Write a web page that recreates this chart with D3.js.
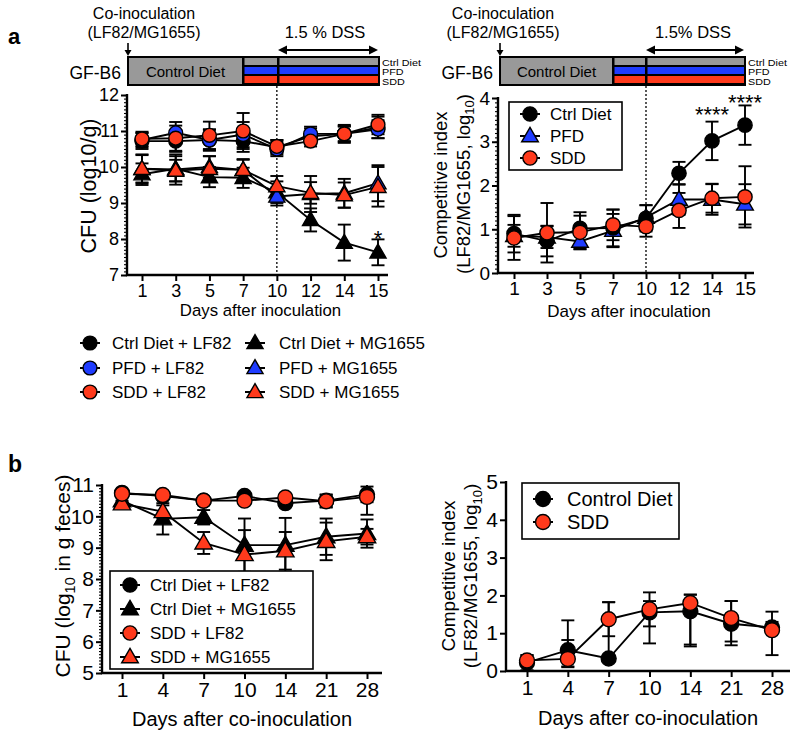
<!DOCTYPE html>
<html><head><meta charset="utf-8">
<script src="https://cdn.jsdelivr.net/npm/d3@7"></script>
<style>
body{margin:0;background:#fff}
svg{display:block}
text{font-family:"Liberation Sans",Arial,Helvetica,sans-serif;fill:#000}
</style>
</head><body>
<svg id="chart" width="800" height="739"></svg>
<script>
// ---------------- DATA ----------------
const daysA = ["1","3","5","7","10","12","14","15"];
const daysB = ["1","4","7","10","14","21","28"];
const yTicksA1 = [7,8,9,10,11,12];
const yTicksA2 = [0,1,2,3,4];
const yTicksB1 = [5,6,7,8,9,10,11];
const yTicksB2 = [0,1,2,3,4,5];

// Panel a (left): CFU log10/g
const aCtrlLF82   = [10.72,10.72,10.75,10.72,10.55,10.85,10.92,11.10];
const aCtrlLF82E  = [0.22,0.30,0.28,0.30,0.20,0.22,0.22,0.30];
const aPfdLF82    = [10.75,10.95,10.75,10.90,10.50,10.92,10.92,11.05];
const aPfdLF82E   = [0.20,0.30,0.30,0.35,0.20,0.20,0.20,0.25];
const aSddLF82    = [10.78,10.80,10.88,11.00,10.57,10.72,10.92,11.18];
const aSddLF82E   = [0.20,0.35,0.38,0.50,0.18,0.15,0.25,0.27];
const aCtrlMG     = [9.80,9.95,9.72,9.70,9.30,8.53,7.90,7.63];
const aCtrlMGE    = [0.30,0.35,0.28,0.28,0.30,0.32,0.50,0.36];
const aPfdMG      = [9.95,9.93,10.00,9.92,9.18,9.25,9.27,9.55];
const aPfdMGE     = [0.40,0.42,0.30,0.28,0.25,0.50,0.40,0.50];
const aSddMG      = [9.95,9.90,9.95,9.92,9.47,9.28,9.22,9.45];
const aSddMGE     = [0.38,0.30,0.35,0.30,0.28,0.30,0.35,0.55];

// Panel a (right): competitive index
const aCtrlCI  = [0.90,0.73,1.02,1.03,1.25,2.28,3.02,3.38];
const aCtrlCIE = [0.43,0.35,0.37,0.42,0.30,0.26,0.44,0.45];
const aPfdCI   = [0.85,0.82,0.72,0.97,1.27,1.68,1.68,1.57];
const aPfdCIE  = [0.25,0.25,0.18,0.38,0.28,0.35,0.35,0.46];
const aSddCI   = [0.80,0.92,0.93,1.10,1.06,1.43,1.71,1.74];
const aSddCIE  = [0.50,0.68,0.38,0.35,0.23,0.40,0.33,0.70];

// Panel b (left): CFU log10 in g feces
const bCtrlLF82  = [10.75,10.65,10.50,10.65,10.42,10.50,10.70];
const bCtrlLF82E = [0.08,0.10,0.10,0.08,0.10,0.20,0.25];
const bCtrlMG    = [10.50,9.92,9.97,9.08,9.08,9.35,9.45];
const bCtrlMGE   = [0.10,0.50,0.23,0.85,0.87,0.58,0.45];
const bSddLF82   = [10.72,10.68,10.50,10.50,10.60,10.48,10.62];
const bSddLF82E  = [0.08,0.08,0.08,0.08,0.08,0.20,0.57];
const bSddMG     = [10.40,10.15,9.15,8.78,8.90,9.20,9.35];
const bSddMGE    = [0.10,0.20,0.35,0.78,0.60,0.60,0.25];

// Panel b (right): competitive index
const bCtrlCI     = [0.22,0.55,0.33,1.55,1.58,1.25,1.15];
const bCtrlCIUp   = [0.20,0.79,1.49,0.30,0.44,0.60,0.15];
const bCtrlCIDown = [0.20,0.45,0.00,0.82,0.93,0.57,0.15];
const bSddCI      = [0.28,0.32,1.37,1.63,1.80,1.40,1.08];
const bSddCIUp    = [0.14,0.50,0.45,0.45,0.22,0.45,0.49];
const bSddCIDown  = [0.10,0.20,0.45,0.45,1.10,0.62,0.66];

// ---------------- STYLE ----------------
const BLACK = "#000000", BLUE = "#1f3cff", RED = "#ff3a1c", GRAY = "#999999";
const svg = d3.select("#chart");

function marker(g, shape, fill, cx, cy, size) {
  const type = shape === "tri" ? d3.symbolTriangle : d3.symbolCircle;
  const area = shape === "tri" ? size * 0.75 : size;
  g.append("path")
    .attr("d", d3.symbol().type(type).size(area)())
    .attr("transform", `translate(${cx},${cy + (shape === "tri" ? 1 : 0)})`)
    .attr("fill", fill).attr("stroke", "#000").attr("stroke-width", 1.4);
}

function drawPanel(o) {
  const g = svg.append("g");
  const x = d3.scalePoint().domain(o.days).range(o.xRange);
  const y = d3.scaleLinear().domain(o.yDomain).range(o.yRange);
  const [y0, y1] = o.yDomain;

  if (o.dotAt) {
    g.append("line").attr("x1", x(o.dotAt)).attr("x2", x(o.dotAt))
      .attr("y1", o.dotTop).attr("y2", y(y0))
      .attr("stroke", "#000").attr("stroke-width", 1.3).attr("stroke-dasharray", "2,2");
  }

  if (o.minor) {
    const minorVals = d3.range(y0, y1 + 1e-9, o.minor);
    g.append("g").attr("transform", `translate(${o.axisX0},0)`)
      .call(d3.axisLeft(y).tickValues(minorVals).tickSize(3).tickFormat(""))
      .call(s => s.select(".domain").remove())
      .selectAll("line").attr("stroke-width", 1.1);
  }
  const ya = g.append("g").attr("transform", `translate(${o.axisX0},0)`)
    .call(d3.axisLeft(y).tickValues(o.yTicks).tickSize(6).tickPadding(2).tickFormat(d3.format("d")));
  ya.select(".domain").remove();
  ya.selectAll("line").attr("stroke-width", 2);
  ya.selectAll("text").style("font-size", o.tickFont + "px");

  const xa = g.append("g").attr("transform", `translate(0,${y(y0)})`)
    .call(d3.axisBottom(x).tickSize(6).tickPadding(3));
  xa.select(".domain").remove();
  xa.selectAll("line").attr("stroke-width", 2);
  xa.selectAll("text").style("font-size", o.tickFont + "px");

  g.append("line").attr("x1", o.axisX0).attr("x2", o.axisX0)
    .attr("y1", y(y1) - 1).attr("y2", y(y0) + 1).attr("stroke", "#000").attr("stroke-width", 2.4);
  g.append("line").attr("x1", o.axisX0 - 1).attr("x2", o.axisX1)
    .attr("y1", y(y0)).attr("y2", y(y0)).attr("stroke", "#000").attr("stroke-width", 2.4);

  g.append("text").attr("x", (o.axisX0 + o.axisX1) / 2 + (o.xTitleDx || 0)).attr("y", o.xTitleY)
    .attr("text-anchor", "middle").style("font-size", o.xTitleFont + "px").text(o.xTitle);

  const line = d3.line().x((d, i) => x(o.days[i])).y(d => y(d));
  o.series.forEach(s => {
    g.append("path").datum(s.vals).attr("d", line)
      .attr("fill", "none").attr("stroke", "#000").attr("stroke-width", 1.9);
  });
  const cap = o.cap || 6;
  o.series.forEach(s => {
    s.vals.forEach((v, i) => {
      const cx = x(o.days[i]);
      const hi = Math.min(v + s.up[i], y1), lo = Math.max(v - s.down[i], y0);
      g.append("line").attr("x1", cx).attr("x2", cx).attr("y1", y(hi)).attr("y2", y(lo))
        .attr("stroke", "#000").attr("stroke-width", 1.9);
      if (s.up[i] > 0 && v + s.up[i] <= y1)
        g.append("line").attr("x1", cx - cap).attr("x2", cx + cap).attr("y1", y(hi)).attr("y2", y(hi))
          .attr("stroke", "#000").attr("stroke-width", 1.9);
      if (s.down[i] > 0 && v - s.down[i] >= y0)
        g.append("line").attr("x1", cx - cap).attr("x2", cx + cap).attr("y1", y(lo)).attr("y2", y(lo))
          .attr("stroke", "#000").attr("stroke-width", 1.9);
    });
  });
  o.series.forEach(s => {
    s.vals.forEach((v, i) => marker(g, s.shape, s.fill, x(o.days[i]), y(v), o.msize));
  });
  return {g, x, y};
}

function legendRow(g, x, y, shape, fill, label, font, msize, gap) {
  g.append("line").attr("x1", x - 10).attr("x2", x + 10).attr("y1", y).attr("y2", y)
    .attr("stroke", "#000").attr("stroke-width", 2);
  marker(g, shape, fill, x, y, msize);
  g.append("text").attr("x", x + (gap || 21)).attr("y", y).attr("dy", "0.35em")
    .style("font-size", font + "px").text(label);
}

function dietBar(o) {
  const g = svg.append("g");
  const top = 57, h = 28;
  g.append("rect").attr("x", o.x0).attr("y", top).attr("width", o.x1 - o.x0).attr("height", h)
    .attr("fill", GRAY).attr("stroke", "#000").attr("stroke-width", 2);
  g.append("text").attr("x", (o.x0 + o.x1) / 2).attr("y", top + h / 2 + 1).attr("dy", "0.35em")
    .attr("text-anchor", "middle").style("font-size", "15px").text("Control Diet");
  const cols = [GRAY, BLUE, RED];
  const sh = (h - 4) / 3;
  g.append("rect").attr("x", o.x1).attr("y", top).attr("width", o.x2 - o.x1).attr("height", h).attr("fill", "#000");
  cols.forEach((c, i) => {
    g.append("rect").attr("x", o.x1 + 1.5).attr("y", top + 1 + i * (sh + 1)).attr("width", o.xd - o.x1 - 2.5)
      .attr("height", sh - 1).attr("fill", c);
    g.append("rect").attr("x", o.xd + 1.5).attr("y", top + 1 + i * (sh + 1)).attr("width", o.x2 - o.xd - 2.5)
      .attr("height", sh - 1).attr("fill", c);
  });
  g.append("rect").attr("x", o.x0).attr("y", top).attr("width", o.x2 - o.x0).attr("height", h)
    .attr("fill", "none").attr("stroke", "#000").attr("stroke-width", 2);
  ["Ctrl Diet", "PFD", "SDD"].forEach((t, i) => {
    g.append("text").attr("transform", `translate(${o.x2 + 3},${66 + i * 9.3}) scale(1.3,1)`)
      .style("font-size", "8.3px").text(t);
  });
  g.append("text").attr("x", o.x0 - 7).attr("y", 79).attr("text-anchor", "end")
    .style("font-size", "17.5px").text("GF-B6");
  g.append("text").attr("x", o.coX).attr("y", 19).attr("text-anchor", "middle")
    .style("font-size", "16px").text("Co-inoculation");
  g.append("text").attr("x", o.coX).attr("y", 38).attr("text-anchor", "middle")
    .style("font-size", "16px").text("(LF82/MG1655)");
  g.append("line").attr("x1", o.x0).attr("x2", o.x0).attr("y1", 43).attr("y2", 52)
    .attr("stroke", "#000").attr("stroke-width", 1.6);
  g.append("path").attr("d", `M${o.x0 - 3.5},50 L${o.x0 + 3.5},50 L${o.x0},56 Z`).attr("fill", "#000");
  const ay = 50;
  g.append("line").attr("x1", o.xd + 4).attr("x2", o.x2 - 4).attr("y1", ay).attr("y2", ay)
    .attr("stroke", "#000").attr("stroke-width", 2);
  g.append("path").attr("d", `M${o.xd},${ay} L${o.xd + 9},${ay - 4.5} L${o.xd + 9},${ay + 4.5} Z`).attr("fill", "#000");
  g.append("path").attr("d", `M${o.x2 - 1},${ay} L${o.x2 - 10},${ay - 4.5} L${o.x2 - 10},${ay + 4.5} Z`).attr("fill", "#000");
  g.append("text").attr("x", o.dssX).attr("y", 38).attr("text-anchor", "middle")
    .style("font-size", "16.5px").text(o.dssLabel);
}

// ---------------- PANEL LABELS ----------------
svg.append("text").attr("x", 8).attr("y", 44).style("font-size", "22px").style("font-weight", "bold").text("a");
svg.append("text").attr("x", 8).attr("y", 472).style("font-size", "23px").style("font-weight", "bold").text("b");

// ---------------- DIET BARS ----------------
dietBar({x0: 128, x1: 243, xd: 278, x2: 379, coX: 144, dssX: 325, dssLabel: "1.5 % DSS"});
dietBar({x0: 500, x1: 613, xd: 646, x2: 745, coX: 503, dssX: 693, dssLabel: "1.5% DSS"});

// ---------------- PANEL a LEFT ----------------
const pA1 = drawPanel({
  days: daysA, xRange: [142, 378], axisX0: 127, axisX1: 388,
  yDomain: [7, 12], yRange: [275, 95], yTicks: yTicksA1, minor: 0.1,
  tickFont: 18, xTitle: "Days after inoculation", xTitleY: 316, xTitleFont: 16.8, xTitleDx: 3,
  dotAt: "10", dotTop: 86, msize: 150, cap: 6.5,
  series: [
    {vals: aCtrlMG, up: aCtrlMGE, down: aCtrlMGE, shape: "tri", fill: BLACK},
    {vals: aPfdMG, up: aPfdMGE, down: aPfdMGE, shape: "tri", fill: BLUE},
    {vals: aSddMG, up: aSddMGE, down: aSddMGE, shape: "tri", fill: RED},
    {vals: aCtrlLF82, up: aCtrlLF82E, down: aCtrlLF82E, shape: "circle", fill: BLACK},
    {vals: aPfdLF82, up: aPfdLF82E, down: aPfdLF82E, shape: "circle", fill: BLUE},
    {vals: aSddLF82, up: aSddLF82E, down: aSddLF82E, shape: "circle", fill: RED}
  ]
});
pA1.g.append("text").attr("x", pA1.x("15")).attr("y", 246).attr("text-anchor", "middle")
  .style("font-size", "22px").text("*");
svg.append("text").attr("transform", "translate(96,186) rotate(-90)").attr("text-anchor", "middle")
  .style("font-size", "21.5px").text("CFU (log10/g)");

{
  const g = svg.append("g");
  legendRow(g, 90, 343, "circle", BLACK, "Ctrl Diet + LF82", 17, 150, 22);
  legendRow(g, 90, 368, "circle", BLUE, "PFD + LF82", 17, 150, 22);
  legendRow(g, 90, 392, "circle", RED, "SDD + LF82", 17, 150, 22);
  legendRow(g, 255, 343, "tri", BLACK, "Ctrl Diet + MG1655", 17, 150, 24);
  legendRow(g, 255, 368, "tri", BLUE, "PFD + MG1655", 17, 150, 24);
  legendRow(g, 255, 392, "tri", RED, "SDD + MG1655", 17, 150, 24);
}

// ---------------- PANEL a RIGHT ----------------
const pA2 = drawPanel({
  days: daysA, xRange: [514, 745], axisX0: 498, axisX1: 754,
  yDomain: [0, 4], yRange: [273, 98], yTicks: yTicksA2, minor: 0.1,
  tickFont: 19, xTitle: "Days after inoculation", xTitleY: 317, xTitleFont: 17, xTitleDx: 3,
  dotAt: "10", dotTop: 86, msize: 160, cap: 6.5,
  series: [
    {vals: aPfdCI, up: aPfdCIE, down: aPfdCIE, shape: "tri", fill: BLUE},
    {vals: aCtrlCI, up: aCtrlCIE, down: aCtrlCIE, shape: "circle", fill: BLACK},
    {vals: aSddCI, up: aSddCIE, down: aSddCIE, shape: "circle", fill: RED}
  ]
});
pA2.g.append("text").attr("x", pA2.x("14")).attr("y", 122).attr("text-anchor", "middle")
  .style("font-size", "22px").text("****");
pA2.g.append("text").attr("x", pA2.x("15")).attr("y", 110).attr("text-anchor", "middle")
  .style("font-size", "22px").text("****");
{
  svg.append("text").attr("transform", "translate(447,185) rotate(-90)").attr("text-anchor", "middle")
    .style("font-size", "18.5px").text("Competitive index");
  const t2 = svg.append("text").attr("transform", "translate(470,184) rotate(-90)").attr("text-anchor", "middle")
    .style("font-size", "18.5px");
  t2.append("tspan").text("(LF82/MG1655, log");
  t2.append("tspan").attr("dy", 4).style("font-size", "13px").text("10");
  t2.append("tspan").attr("dy", -4).text(")");
  const g = svg.append("g");
  g.append("rect").attr("x", 509).attr("y", 102).attr("width", 113).attr("height", 68)
    .attr("fill", "#fff").attr("stroke", "#000").attr("stroke-width", 1.6);
  legendRow(g, 530, 114, "circle", BLACK, "Ctrl Diet", 17, 160, 20);
  legendRow(g, 530, 136, "tri", BLUE, "PFD", 17, 160, 20);
  legendRow(g, 530, 158, "circle", RED, "SDD", 17, 160, 20);
}

// ---------------- PANEL b LEFT ----------------
const pB1 = drawPanel({
  days: daysB, xRange: [122, 367], axisX0: 102, axisX1: 382,
  yDomain: [5, 11], yRange: [673, 485], yTicks: yTicksB1, minor: 0.1,
  tickFont: 21, xTitle: "Days after co-inoculation", xTitleY: 726, xTitleFont: 20, xTitleDx: 0,
  msize: 175, cap: 6.5,
  series: [
    {vals: bCtrlMG, up: bCtrlMGE, down: bCtrlMGE, shape: "tri", fill: BLACK},
    {vals: bSddMG, up: bSddMGE, down: bSddMGE, shape: "tri", fill: RED},
    {vals: bCtrlLF82, up: bCtrlLF82E, down: bCtrlLF82E, shape: "circle", fill: BLACK},
    {vals: bSddLF82, up: bSddLF82E, down: bSddLF82E, shape: "circle", fill: RED}
  ]
});
{
  const t = svg.append("text").attr("transform", "translate(70,576) rotate(-90)").attr("text-anchor", "middle")
    .style("font-size", "21px");
  t.append("tspan").text("CFU (log");
  t.append("tspan").attr("dy", 5).style("font-size", "14.5px").text("10");
  t.append("tspan").attr("dy", -5).text(" in g feces)");
  const g = svg.append("g");
  g.append("rect").attr("x", 110).attr("y", 571).attr("width", 203).attr("height", 98)
    .attr("fill", "#fff").attr("stroke", "#000").attr("stroke-width", 1.6);
  legendRow(g, 130, 585, "circle", BLACK, "Ctrl Diet + LF82", 17, 160, 20);
  legendRow(g, 130, 609, "tri", BLACK, "Ctrl Diet + MG1655", 17, 160, 20);
  legendRow(g, 130, 633, "circle", RED, "SDD + LF82", 17, 160, 20);
  legendRow(g, 130, 657, "tri", RED, "SDD + MG1655", 17, 160, 20);
}

// ---------------- PANEL b RIGHT ----------------
const pB2 = drawPanel({
  days: daysB, xRange: [527, 772], axisX0: 506, axisX1: 790,
  yDomain: [0, 5], yRange: [671, 482], yTicks: yTicksB2, minor: 0,
  tickFont: 21, xTitle: "Days after co-inoculation", xTitleY: 725, xTitleFont: 20, xTitleDx: 0,
  msize: 175, cap: 6.5,
  series: [
    {vals: bCtrlCI, up: bCtrlCIUp, down: bCtrlCIDown, shape: "circle", fill: BLACK},
    {vals: bSddCI, up: bSddCIUp, down: bSddCIDown, shape: "circle", fill: RED}
  ]
});
{
  svg.append("text").attr("transform", "translate(455,576) rotate(-90)").attr("text-anchor", "middle")
    .style("font-size", "19px").text("Competitive index");
  const t2 = svg.append("text").attr("transform", "translate(477,576) rotate(-90)").attr("text-anchor", "middle")
    .style("font-size", "19px");
  t2.append("tspan").text("(LF82/MG1655, log");
  t2.append("tspan").attr("dy", 5).style("font-size", "13px").text("10");
  t2.append("tspan").attr("dy", -5).text(")");
  const g = svg.append("g");
  g.append("rect").attr("x", 522).attr("y", 483).attr("width", 157).attr("height", 56)
    .attr("fill", "#fff").attr("stroke", "#000").attr("stroke-width", 1.6);
  legendRow(g, 543, 499, "circle", BLACK, "Control Diet", 20, 175, 24);
  legendRow(g, 543, 522, "circle", RED, "SDD", 20, 175, 24);
}
</script>
</body></html>
